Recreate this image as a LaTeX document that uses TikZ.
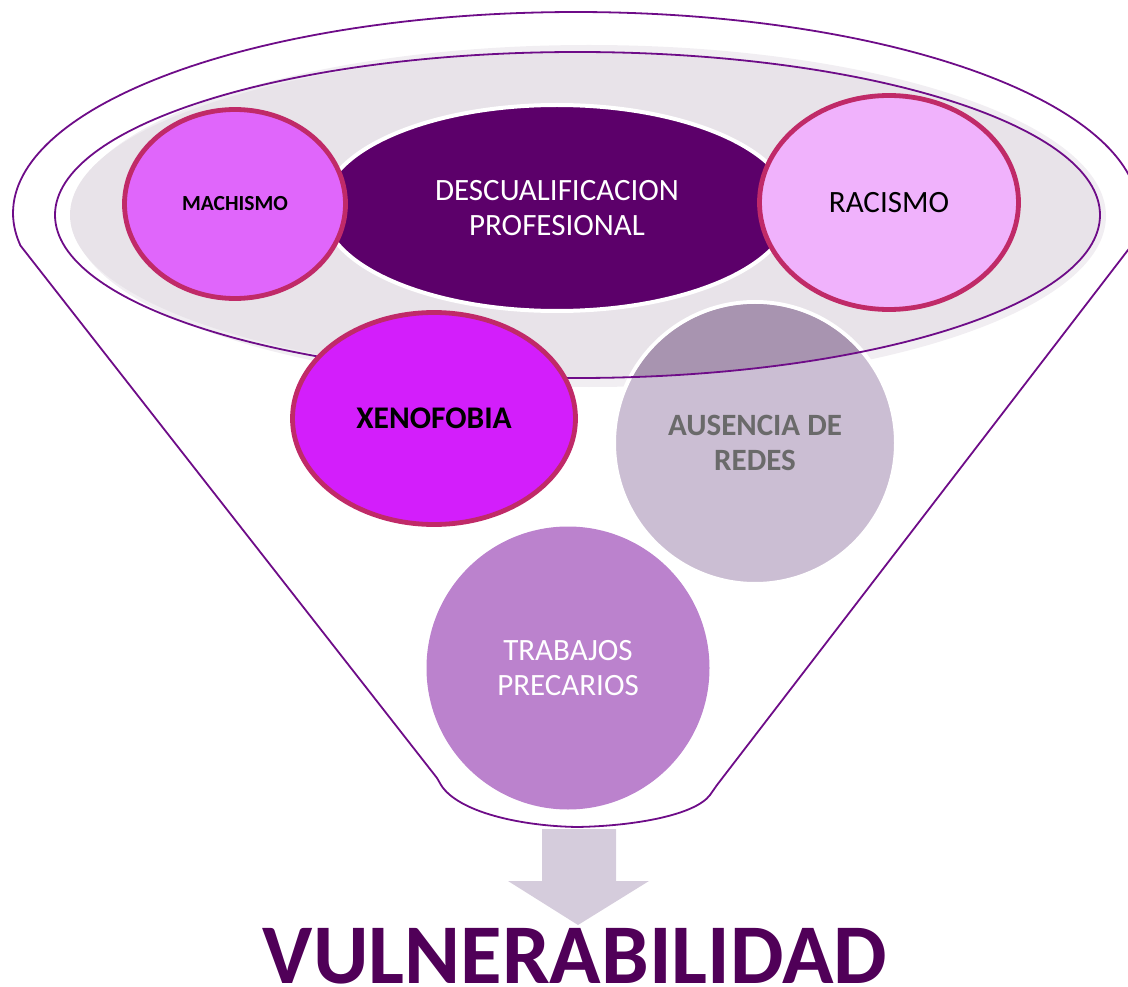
\documentclass[tikz,border=0pt]{standalone}
\usepackage{fontspec}
\setmainfont{Carlito}
\usetikzlibrary{shapes.geometric}
\definecolor{funnelc}{HTML}{6E0C88}
\definecolor{greyfill}{HTML}{E8E3E9}
\definecolor{greyhalo}{HTML}{F1EEF2}
\definecolor{machc}{HTML}{E066FB}
\definecolor{bordc}{HTML}{C02A68}
\definecolor{descc}{HTML}{5C006A}
\definecolor{racc}{HTML}{F0B2FC}
\definecolor{xenoc}{HTML}{D31EFB}
\definecolor{auslight}{HTML}{CBBED3}
\definecolor{ausdark}{HTML}{A894B0}
\definecolor{austext}{HTML}{6A6A6A}
\definecolor{trabc}{HTML}{BB82CD}
\definecolor{arrowc}{HTML}{D5CCDC}
\definecolor{vulnc}{HTML}{500058}
\tikzset{
  funnelline/.style={draw=funnelc, line width=1.8pt, line join=round},
  bubble/.style={ellipse, inner sep=0pt, align=center, font=\fontsize{31}{35}\selectfont},
  pinkring/.style={bubble, draw=bordc, line width=4.8pt},
  whitering/.style={bubble, draw=white, line width=4pt},
}
\begin{document}
\begin{tikzpicture}[x=1pt,y=-1pt]
\useasboundingbox (0,0) rectangle (1128,987);
\begin{scope}
\clip (0,0) rectangle (1128,987);
% funnel outline
\draw[funnelline] (20,245) -- (437,778) -- (441,785)
  .. controls (458,812) and (520,826) .. (577,827)
  .. controls (635,826) and (695,815) .. (710,795) -- (717,785)
  -- plot[domain=9.2:-189.2, samples=150] ({576+563*cos(\x)},{213+201*sin(\x)}) -- cycle;
\end{scope}
% grey band
\fill[greyhalo] (589,216) ellipse [x radius=517pt, y radius=171pt];
\fill[greyfill] (585,215) ellipse [x radius=515pt, y radius=163pt];
% trabajos precarios
\node[bubble, circle, fill=trabc, text=white, minimum size=283pt] (trabajos) at (568,668) {TRABAJOS\\PRECARIOS};
% ausencia de redes
\node[whitering, circle, fill=auslight, text=austext, minimum size=282pt] (ausencia) at (755,443) {};
\begin{scope}
\clip (ausencia.center) circle [radius=139pt];
\fill[ausdark] (577.5,215) ellipse [x radius=522.5pt, y radius=163pt];
\end{scope}
\node[bubble, text=austext, font=\fontsize{31}{35}\selectfont\bfseries] (ausenciatext) at (ausencia.center) {AUSENCIA DE\\REDES};
% inner ellipse outline
\draw[funnelline] (577.5,215) ellipse [x radius=522.5pt, y radius=163pt];
% descualificacion
\node[whitering, fill=descc, text=white, minimum width=468pt, minimum height=206pt] (descual) at (557,208) {DESCUALIFICACION\\PROFESIONAL};
% machismo
\node[pinkring, fill=machc, minimum width=221pt, minimum height=189pt, font=\fontsize{21.5}{25}\selectfont\bfseries] (machismo) at (235,204) {MACHISMO};
% racismo
\node[pinkring, fill=racc, minimum width=259pt, minimum height=214pt] (racismo) at (889,202.5) {RACISMO};
% xenofobia
\node[pinkring, fill=xenoc, minimum width=283pt, minimum height=212pt, font=\fontsize{31.5}{35}\selectfont\bfseries] (xenofobia) at (434,418.5) {XENOFOBIA};
% block arrow
\fill[arrowc] (542,829) -- (616,829) -- (616,881) -- (649,881) -- (578,925) -- (508,881) -- (542,881) -- cycle;
% title
\node[text=vulnc, font=\fontsize{85}{90}\selectfont\bfseries, inner sep=0pt, anchor=base] (vuln) at (575,983) {VULNERABILIDAD};
\end{tikzpicture}
\end{document}
